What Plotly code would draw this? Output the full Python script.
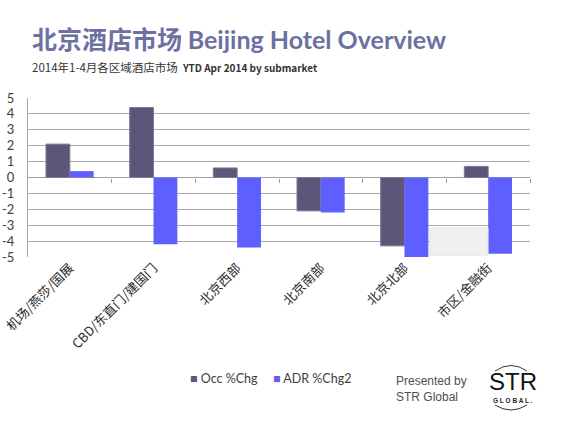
import plotly.graph_objects as go

# data
submarkets = ["机场/燕莎/国展", "CBD/东直门/建国门", "北京西部", "北京南部", "北京北部", "市区/金融街"]
occ_chg = [2.1, 4.4, 0.6, -2.1, -4.3, 0.7]
adr_chg = [0.4, -4.2, -4.4, -2.2, -5.0, -4.8]
y_ticks = [5, 4, 3, 2, 1, 0, -1, -2, -3, -4, -5]
y_tick_text = [str(v) for v in y_ticks]

W, H = 567, 426
L, R, T, B = 28, 37, 98, 169
OCC_COLOR = "#5E5678"
ADR_COLOR = "#5F5FFF"


def px(x):
    return (x - L) / (W - L - R)


def py(y):
    return (H - B - y) / (H - T - B)


fig = go.Figure()
fig.add_trace(go.Bar(x=submarkets, y=occ_chg, name="Occ %Chg",
                     marker=dict(color=OCC_COLOR, line=dict(color="#7E789A", width=1))))
fig.add_trace(go.Bar(x=submarkets, y=adr_chg, name="ADR %Chg2",
                     marker=dict(color=ADR_COLOR, line=dict(width=0))))
# dummy trace so the tick axis on the zero line gets drawn
fig.add_trace(go.Scatter(x=[None], y=[None], xaxis="x2", showlegend=False, hoverinfo="skip"))

n = len(submarkets)
fig.update_layout(
    width=W, height=H,
    margin=dict(l=L, r=R, t=T, b=B),
    paper_bgcolor="white", plot_bgcolor="white",
    barmode="group", bargap=0.43, bargroupgap=0,
    font=dict(family="Lato, Noto Sans CJK SC", color="#404040"),
    showlegend=False,
    xaxis=dict(tickangle=-45, tickfont=dict(family="Noto Sans CJK SC", size=13, color="#2A2A2A"),
               showgrid=False, showline=False, ticks="", automargin=False),
    xaxis2=dict(overlaying="x", anchor="free", position=0.5, range=[-0.5, n - 0.5],
                tickvals=[i + 0.5 for i in range(n)], ticks="outside", ticklen=4,
                tickcolor="#999999", showticklabels=False, showgrid=False, showline=False,
                zeroline=False, automargin=False),
    yaxis=dict(range=[-5, 5], tickvals=y_ticks, ticktext=y_tick_text,
               tickfont=dict(family="Lato", size=13, color="#404040"),
               ticklabelstandoff=10, automargin=False,
               showgrid=True, gridcolor="#A8A8A8", gridwidth=1,
               zeroline=True, zerolinecolor="#A0A0A0", zerolinewidth=1,
               showline=True, linecolor="#A8A8A8", linewidth=1),
)

annotations = [
    dict(text="北京酒店市场 <span style='font-family:Lato'>Beijing Hotel Overview</span>",
         x=px(30), y=py(38), xanchor="left", yanchor="middle",
         font=dict(family="Noto Sans CJK SC", size=25, color="#6D70A2", weight="bold")),
    dict(text="2014年1-4月各区域酒店市场  <span style='font-size:10px'><b>YTD Apr 2014 by submarket</b></span>",
         x=px(30), y=py(67), xanchor="left", yanchor="middle",
         font=dict(family="Noto Sans CJK SC", size=11.5, color="#333333")),
    # legend
    dict(text=f"<span style='color:{OCC_COLOR}'>■</span> Occ %Chg", x=px(188), y=py(378),
         xanchor="left", yanchor="middle", font=dict(family="Lato", size=12.5, color="#404040")),
    dict(text=f"<span style='color:{ADR_COLOR}'>■</span> ADR %Chg2", x=px(271), y=py(378),
         xanchor="left", yanchor="middle", font=dict(family="Lato", size=12.5, color="#404040")),
    dict(text="Presented by<br>STR Global", x=px(394), y=py(389), xanchor="left", yanchor="middle",
         align="left", font=dict(family="Liberation Sans", size=12, color="#505050")),
    dict(text="STR", x=px(513), y=py(381), xanchor="center", yanchor="middle",
         font=dict(family="Liberation Sans", size=24, color="#111111")),
    dict(text="G L O B A L .", x=px(513), y=py(400), xanchor="center", yanchor="middle",
         font=dict(family="Liberation Sans", size=6.5, color="#222222", weight="bold")),
]
for a in annotations:
    a.update(xref="paper", yref="paper", showarrow=False)
fig.update_layout(annotations=annotations)

shapes = [
    # stray grey box inside the plot
    dict(type="rect", x0=px(430), x1=px(488), y0=py(228), y1=py(255),
         fillcolor="#F0F0F0", line=dict(color="#E2E2E2", width=1), layer="above"),
    # logo arcs
    dict(type="path", path=f"M {px(495)},{py(371)} Q {px(511)},{py(360)} {px(527)},{py(371)}",
         line=dict(color="#333333", width=1)),
    dict(type="path", path=f"M {px(495)},{py(405)} Q {px(511)},{py(415)} {px(527)},{py(405)}",
         line=dict(color="#333333", width=1)),
]
for s in shapes:
    s.update(xref="paper", yref="paper")
fig.update_layout(shapes=shapes)

# page body has a default margin; drop it so the figure sits at the window corner
fig.write_html("out.html", config={"displayModeBar": False},
               post_script="document.body.style.margin='0px';")
